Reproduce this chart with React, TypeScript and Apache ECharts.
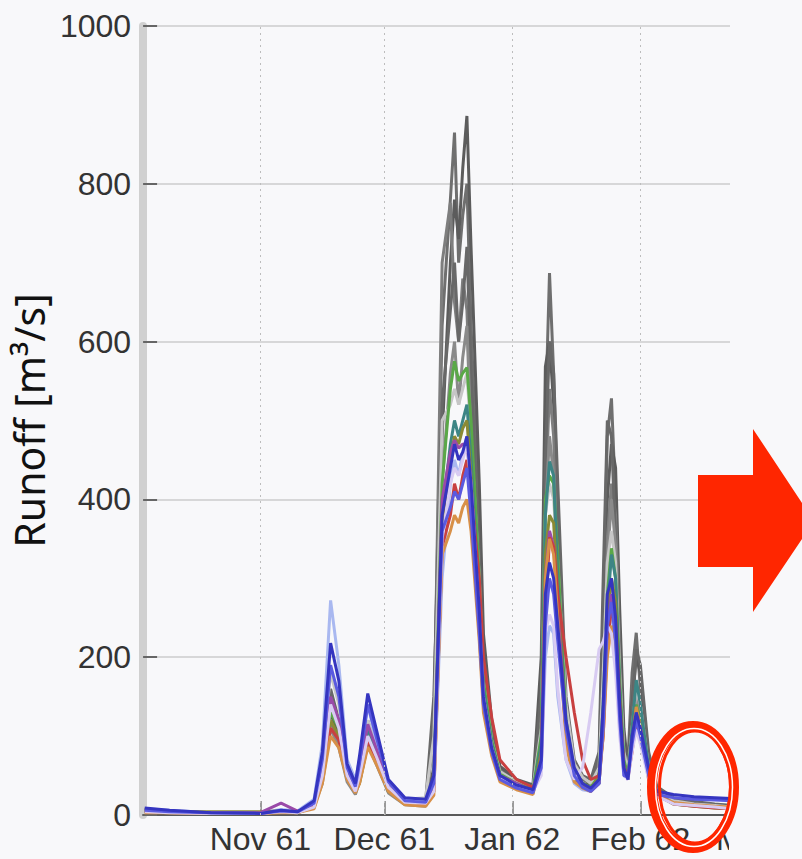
import { useEffect, useRef } from "react";
import * as echarts from "echarts";

// Days counted from 1 Nov 1961
const days = [
  -28, -22, -12, 0, 5, 9,
  13, 15, 17, 19, 21, 23,
  24, 26, 28, 31, 35,
  40,
  42, 44,
  46, 47, 48, 49, 50, 51,
  53, 54, 56, 58,
  62, 66,
  68, 69, 70, 71, 72, 74,
  76, 78, 80, 82,
  83, 84, 85, 86, 87, 88,
  89, 90, 91, 92, 94, 96,
  100, 105, 110, 114,
];

// Month starts (days from 1 Nov 1961) and their tick labels
const monthTicks = [0, 30, 61, 92];
const monthLabels = ["Nov 61", "Dec 61", "Jan 62", "Feb 62"];

// Runoff ensemble members [m³/s]
const grey1 = [6, 4, 3, 3, 6, 4, 15, 60, 150, 110, 55, 35, 55, 110, 80, 35, 16, 14, 120, 620, 780, 865, 700, 760, 800, 620, 360, 210, 110, 60, 42, 35, 120, 500, 687, 560, 380, 130, 60, 45, 40, 70, 260, 480, 528, 400, 210, 90, 70, 180, 231, 160, 60, 34, 20, 16, 13, 12];
const grey2 = [5, 4, 3, 2, 5, 4, 12, 50, 130, 100, 50, 32, 50, 100, 75, 32, 15, 13, 60, 480, 700, 780, 730, 820, 886, 720, 420, 230, 120, 62, 45, 38, 200, 568, 600, 520, 350, 110, 55, 40, 38, 55, 200, 400, 470, 440, 260, 110, 60, 140, 200, 180, 70, 30, 18, 14, 12, 10];
const grey3 = [4, 3, 2, 2, 4, 3, 10, 45, 120, 90, 45, 28, 45, 95, 70, 30, 14, 12, 100, 700, 776, 650, 600, 680, 640, 500, 300, 180, 100, 52, 38, 30, 100, 400, 540, 480, 300, 90, 50, 38, 35, 50, 180, 350, 420, 380, 200, 80, 60, 120, 170, 140, 55, 28, 17, 13, 11, 9];
const grey4 = [7, 5, 3, 3, 5, 4, 14, 55, 160, 120, 60, 38, 60, 120, 85, 38, 18, 16, 150, 520, 640, 700, 600, 650, 720, 560, 330, 190, 105, 55, 40, 34, 160, 450, 600, 560, 420, 150, 70, 50, 45, 80, 300, 500, 480, 350, 180, 75, 55, 130, 210, 190, 80, 36, 22, 17, 14, 12];
const grey5 = [5, 4, 3, 2, 4, 3, 11, 40, 110, 85, 42, 26, 42, 90, 65, 28, 13, 11, 40, 420, 560, 600, 520, 580, 620, 480, 280, 160, 90, 48, 36, 28, 90, 380, 480, 430, 280, 100, 50, 38, 33, 45, 150, 320, 400, 340, 170, 70, 50, 100, 150, 120, 50, 27, 16, 12, 10, 8];
const paleGrey = [5, 4, 3, 2, 5, 4, 18, 73, 180, 140, 60, 40, 60, 120, 90, 40, 20, 22, 100, 500, 520, 540, 520, 540, 560, 480, 300, 170, 95, 55, 42, 35, 110, 380, 420, 400, 320, 140, 65, 48, 40, 60, 180, 320, 360, 320, 180, 80, 55, 110, 160, 140, 60, 30, 18, 14, 12, 10];
const paleBlue = [8, 6, 3, 3, 7, 5, 20, 90, 272, 190, 70, 45, 70, 140, 95, 40, 20, 18, 30, 300, 420, 450, 430, 460, 480, 400, 230, 140, 80, 45, 35, 30, 60, 200, 240, 230, 150, 70, 40, 32, 30, 40, 120, 250, 260, 200, 110, 55, 45, 90, 120, 100, 45, 24, 15, 12, 10, 8];
const darkBlue = [9, 6, 3, 2, 6, 4, 18, 80, 218, 170, 65, 40, 75, 154, 110, 45, 22, 20, 50, 380, 440, 470, 450, 460, 480, 420, 260, 150, 85, 50, 38, 32, 70, 280, 320, 300, 240, 120, 60, 40, 34, 45, 140, 280, 300, 250, 140, 60, 45, 100, 130, 110, 60, 30, 26, 23, 22, 21];
const blue = [6, 4, 3, 2, 5, 4, 15, 70, 190, 150, 60, 36, 65, 140, 100, 42, 18, 16, 40, 360, 390, 410, 400, 420, 440, 380, 230, 140, 80, 45, 34, 28, 60, 240, 300, 280, 220, 110, 50, 35, 30, 40, 110, 240, 270, 220, 120, 50, 48, 90, 120, 100, 50, 26, 22, 20, 19, 18];
const teal = [5, 4, 3, 2, 4, 3, 14, 60, 146, 120, 55, 35, 50, 110, 80, 35, 16, 15, 45, 380, 470, 500, 480, 500, 520, 450, 270, 160, 90, 50, 38, 30, 90, 380, 448, 430, 300, 110, 45, 35, 32, 40, 130, 260, 330, 300, 160, 65, 45, 110, 171, 140, 60, 28, 15, 12, 10, 9];
const green = [4, 3, 2, 2, 4, 3, 12, 73, 130, 110, 50, 30, 45, 100, 75, 32, 15, 14, 40, 420, 540, 575, 550, 560, 567, 500, 300, 170, 95, 52, 40, 32, 100, 400, 430, 420, 330, 120, 55, 40, 35, 50, 140, 280, 338, 300, 170, 70, 50, 100, 140, 120, 50, 26, 14, 11, 9, 8];
const olive = [8, 4, 4, 4, 5, 4, 10, 50, 120, 100, 48, 30, 40, 90, 70, 30, 14, 13, 35, 370, 450, 480, 470, 490, 500, 430, 260, 150, 85, 48, 36, 28, 80, 330, 380, 370, 280, 100, 48, 36, 33, 48, 120, 250, 300, 270, 150, 60, 48, 90, 137, 110, 48, 25, 14, 12, 10, 8];
const red = [4, 3, 2, 2, 4, 3, 10, 45, 110, 95, 50, 32, 45, 95, 70, 32, 15, 12, 30, 340, 380, 420, 400, 430, 450, 410, 300, 200, 124, 70, 45, 35, 60, 250, 352, 340, 280, 200, 130, 70, 45, 50, 100, 220, 260, 240, 140, 60, 48, 80, 120, 100, 50, 26, 14, 11, 9, 8];
const orange = [3, 3, 2, 2, 3, 3, 8, 40, 100, 85, 45, 28, 40, 86, 65, 30, 13, 11, 25, 330, 360, 380, 370, 390, 400, 360, 220, 130, 75, 42, 32, 26, 70, 300, 350, 330, 250, 90, 42, 34, 30, 42, 100, 200, 240, 220, 130, 55, 50, 90, 137, 110, 45, 24, 16, 13, 11, 10];
const lavender = [4, 3, 2, 2, 4, 3, 10, 50, 140, 110, 50, 30, 50, 100, 75, 35, 16, 15, 30, 350, 420, 440, 430, 450, 470, 420, 250, 150, 85, 48, 38, 30, 50, 231, 254, 240, 160, 70, 45, 60, 130, 210, 220, 240, 230, 180, 100, 50, 45, 80, 108, 90, 45, 24, 14, 12, 10, 8];
const purple = [5, 4, 3, 3, 15, 5, 12, 55, 150, 120, 55, 35, 55, 115, 85, 36, 17, 15, 35, 400, 460, 475, 465, 470, 470, 420, 260, 150, 85, 50, 40, 30, 70, 300, 360, 340, 260, 110, 50, 35, 30, 40, 110, 230, 280, 240, 130, 55, 45, 90, 130, 110, 50, 26, 15, 12, 10, 9];

const members = [
  { values: grey1, color: "#6f6f6f" },
  { values: grey2, color: "#5c5c5c" },
  { values: grey3, color: "#7e7e7e" },
  { values: grey4, color: "#686868" },
  { values: grey5, color: "#8a8a8a" },
  { values: paleGrey, color: "#c6c6c6" },
  { values: paleBlue, color: "#a9b8f0" },
  { values: green, color: "#5aa848" },
  { values: teal, color: "#3d8585" },
  { values: olive, color: "#8a8a34" },
  { values: purple, color: "#9a4aa8" },
  { values: red, color: "#c84040" },
  { values: orange, color: "#d89048" },
  { values: lavender, color: "#d8cbf2" },
  { values: blue, color: "#5a5ae0" },
  { values: darkBlue, color: "#3535c0" },
];

const TICK_FONT = "Liberation Sans";
const RED = "#ff2600";
const BG = "#f8f8fa";

export default function App() {
  const ref = useRef<HTMLDivElement>(null);

  useEffect(() => {
    if (!ref.current) return;
    const chart = echarts.init(ref.current, undefined, { renderer: "svg" });

    const series: any[] = members.map((m, i) => ({
      type: "line",
      data: days.map((d, k) => [d, m.values[k]]),
      showSymbol: false,
      silent: true,
      lineStyle: { width: 3, color: m.color },
      ...(i === 0
        ? {
            markLine: {
              silent: true,
              symbol: "none",
              label: { show: false },
              lineStyle: { type: [2, 4], color: "#bdbdbd", width: 1 },
              data: monthTicks.map((t) => ({ xAxis: t })),
            },
          }
        : {}),
    }));

    chart.setOption({
      animation: false,
      backgroundColor: BG,
      grid: { left: 140, right: 72, top: 26, bottom: 44, containLabel: false },
      xAxis: {
        type: "value",
        min: -28.4,
        max: 113.7,
        axisLine: { show: true, onZero: false, lineStyle: { color: "#5a5a5a", width: 2 } },
        axisTick: {
          show: true,
          inside: true,
          length: 14,
          customValues: monthTicks,
          lineStyle: { color: "#999999", width: 2 },
        },
        axisLabel: {
          customValues: monthTicks,
          formatter: (v: number) => {
            const i = monthTicks.indexOf(v);
            return i >= 0 ? monthLabels[i] : "";
          },
          fontFamily: TICK_FONT,
          fontSize: 32,
          color: "#333333",
          margin: 8,
        },
        splitLine: { show: false },
      },
      yAxis: {
        type: "value",
        min: 0,
        max: 1000,
        interval: 200,
        name: "Runoff [m³/s]",
        nameLocation: "middle",
        nameRotate: 90,
        nameGap: 80,
        nameTextStyle: { fontFamily: "Noto Sans", fontSize: 41, color: "#111111" },
        axisLine: { show: true, onZero: false, lineStyle: { color: "#d0d0d0", width: 8 } },
        axisTick: { show: true, inside: true, length: 14, lineStyle: { color: "#666666", width: 2 } },
        axisLabel: {
          formatter: (v: number) => String(v),
          fontFamily: TICK_FONT,
          fontSize: 32,
          color: "#333333",
          margin: 12,
        },
        splitLine: { show: true, lineStyle: { color: "#cccccc", width: 1.5 } },
      },
      graphic: [
        {
          type: "text",
          z: 50,
          style: {
            text: "M",
            x: 716,
            y: 823,
            font: `32px "${TICK_FONT}"`,
            fill: "#333333",
            verticalAlign: "top",
          },
        },
        {
          // the next month's label is cut at the plot's right edge
          type: "rect",
          z: 60,
          shape: { x: 729, y: 818, width: 40, height: 41 },
          style: { fill: BG },
        },
        {
          type: "polygon",
          z: 100,
          shape: {
            points: [
              [698, 475],
              [753, 475],
              [753, 429],
              [814, 521],
              [753, 612],
              [753, 567],
              [698, 567],
            ],
          },
          style: { fill: RED },
        },
        {
          type: "ellipse",
          z: 100,
          shape: { cx: 693, cy: 787, rx: 41, ry: 61 },
          style: { fill: "none", stroke: RED, lineWidth: 10 },
        },
        {
          type: "ellipse",
          z: 101,
          shape: { cx: 695, cy: 787, rx: 35.5, ry: 56 },
          style: { fill: "none", stroke: RED, lineWidth: 3 },
        },
        {
          type: "ellipse",
          z: 102,
          shape: { cx: 694, cy: 787.5, rx: 38.5, ry: 59 },
          style: { fill: "none", stroke: "#ffffff", lineWidth: 1.5 },
        },
      ],
      series,
    });

    return () => chart.dispose();
  }, []);

  return (
    <div
      ref={ref}
      style={{ position: "fixed", left: 0, top: 0, width: 802, height: 859 }}
    />
  );
}
